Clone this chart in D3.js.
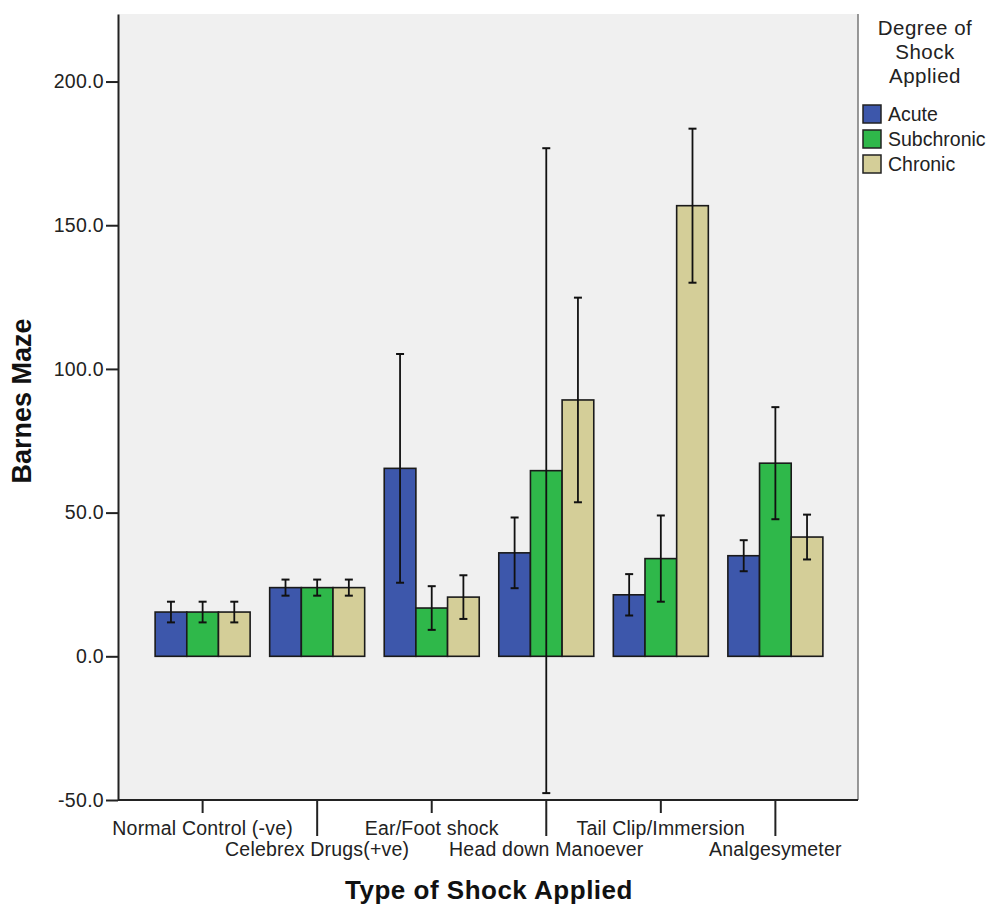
<!DOCTYPE html>
<html>
<head>
  <meta charset="utf-8">
  <style>
    body {
      margin: 0px;
      padding: 0px;
      background: #fff;
    }
    text {
      font-family: "Liberation Sans", Arial, sans-serif;
    }
  </style>
</head>
<body>
  <div id="chart"></div>
  <script src="https://cdn.jsdelivr.net/npm/d3@7"></script>
  <script>
    // categories + series
    let categories = ['Normal Control (-ve)', 'Celebrex Drugs(+ve)', 'Ear/Foot shock',
      'Head down Manoever', 'Tail Clip/Immersion', 'Analgesymeter'];
    let seriesNames = ['Acute', 'Subchronic', 'Chronic'];
    let seriesColors = ['#3d57ab', '#2fb84a', '#d4ce98'];

    // means, one array per series (same order as categories)
    let acute = [15.4, 23.9, 65.4, 36.0, 21.4, 35.0];
    let subchronic = [15.4, 23.9, 16.8, 64.6, 34.0, 67.2];
    let chronic = [15.4, 23.9, 20.6, 89.2, 156.8, 41.5];

    // error bar half widths
    let acuteErr = [3.6, 2.8, 39.8, 12.3, 7.2, 5.4];
    let subchronicErr = [3.6, 2.8, 7.6, 112.2, 15.0, 19.5];
    let chronicErr = [3.6, 2.8, 7.6, 35.6, 26.8, 7.8];

    let yTicks = [-50, 0, 50, 100, 150, 200];

    var width = 990, height = 905;
    // plot box (note: "top" is taken by window.top)
    var plotLeft = 118, plotRight = 858, plotTop = 14, plotBottom = 800;

    var values = [acute, subchronic, chronic];
    var errs = [acuteErr, subchronicErr, chronicErr];
    var rows = [];
    categories.forEach(function(c, i) {
      seriesNames.forEach(function(s, j) {
        rows.push({cat: c, series: s, value: values[j][i], err: errs[j][i], idx: j});
      });
    });

    var svg = d3.select('#chart').append('svg')
      .attr('width', width).attr('height', height);

    var x = d3.scaleBand()
      .domain(categories)
      .range([plotLeft + 1, plotRight + 1])
      .paddingInner(0)
      .paddingOuter(0.23);
    var xSub = d3.scaleBand()
      .domain(seriesNames)
      .range([-47.5, 47.5]);
    var y = d3.scaleLinear()
      .domain([-50, 223.5])
      .range([plotBottom, plotTop]);

    function cx(c) { return x(c) + x.bandwidth() / 2; }

    // plot background
    svg.append('rect')
      .attr('x', plotLeft).attr('y', plotTop)
      .attr('width', plotRight - plotLeft).attr('height', plotBottom - plotTop)
      .style('fill', '#f0f0f0');
    svg.append('line')
      .attr('x1', plotRight).attr('x2', plotRight).attr('y1', plotTop).attr('y2', plotBottom)
      .style('stroke', '#777').style('stroke-width', 1.5);

    // bars
    svg.selectAll('rect.bar')
      .data(rows)
      .enter()
      .append('rect')
      .attr('class', 'bar')
      .attr('x', function(d) { return cx(d.cat) + xSub(d.series); })
      .attr('y', function(d) { return y(d.value); })
      .attr('width', xSub.bandwidth())
      .attr('height', function(d) { return y(0) - y(d.value); })
      .style('fill', function(d) { return seriesColors[d.idx]; })
      .style('stroke', '#1a1a1a')
      .style('stroke-width', 1.6);

    // error bars
    var eb = svg.selectAll('g.err')
      .data(rows)
      .enter()
      .append('g')
      .attr('class', 'err')
      .attr('transform', function(d) {
        return 'translate(' + (cx(d.cat) + xSub(d.series) + xSub.bandwidth() / 2) + ',0)';
      });
    eb.append('line')
      .attr('x1', 0).attr('x2', 0)
      .attr('y1', function(d) { return y(d.value - d.err); })
      .attr('y2', function(d) { return y(d.value + d.err); })
      .style('stroke', '#111').style('stroke-width', 1.8);
    eb.append('line')
      .attr('x1', -4).attr('x2', 4)
      .attr('y1', function(d) { return y(d.value + d.err); })
      .attr('y2', function(d) { return y(d.value + d.err); })
      .style('stroke', '#111').style('stroke-width', 2);
    eb.append('line')
      .attr('x1', -4).attr('x2', 4)
      .attr('y1', function(d) { return y(d.value - d.err); })
      .attr('y2', function(d) { return y(d.value - d.err); })
      .style('stroke', '#111').style('stroke-width', 2);

    // y axis (plain hyphen for negatives, like the original)
    var fmt = d3.format('.1f');
    var yAxis = svg.append('g')
      .attr('transform', 'translate(' + plotLeft + ',0)')
      .call(d3.axisLeft(y).tickValues(yTicks)
        .tickFormat(function(d) { return fmt(d).replace('\u2212', '-'); })
        .tickSize(12).tickPadding(2).tickSizeOuter(0));
    yAxis.select('.domain').style('stroke', '#222').style('stroke-width', 2);
    yAxis.selectAll('.tick line').style('stroke', '#222').style('stroke-width', 2);
    yAxis.selectAll('.tick text')
      .style('font-size', '19.5px')
      .style('font-family', '"Liberation Sans", Arial, sans-serif')
      .style('letter-spacing', '0.3px')
      .style('fill', '#222');

    // x axis
    var xAxis = svg.append('g')
      .attr('transform', 'translate(0,' + plotBottom + ')');
    xAxis.append('line')
      .attr('x1', plotLeft).attr('x2', plotRight).attr('y1', 0).attr('y2', 0)
      .style('stroke', '#222').style('stroke-width', 2);
    var xt = xAxis.selectAll('g.xtick')
      .data(categories)
      .enter()
      .append('g')
      .attr('class', 'xtick')
      .attr('transform', function(d) { return 'translate(' + cx(d) + ',0)'; });
    xt.append('line')
      .attr('y1', 0)
      .attr('y2', function(d, i) { return i % 2 == 0 ? 13 : 36; })
      .style('stroke', '#222').style('stroke-width', 2);
    xt.append('text')
      .attr('y', function(d, i) { return i % 2 == 0 ? 28 : 49; })
      .attr('dy', '0.35em')
      .attr('text-anchor', 'middle')
      .style('font-size', '19.5px')
      .style('letter-spacing', '0.2px')
      .style('fill', '#222')
      .text(function(d) { return d; });

    // axis titles
    svg.append('text')
      .attr('x', 489).attr('y', 890)
      .attr('dy', '0.35em')
      .attr('text-anchor', 'middle')
      .style('font-size', '26px')
      .style('font-weight', 'bold')
      .style('letter-spacing', '0.5px')
      .style('fill', '#111')
      .text('Type of Shock Applied');
    svg.append('text')
      .attr('transform', 'translate(22,401) rotate(-90)')
      .attr('dy', '0.35em')
      .attr('text-anchor', 'middle')
      .style('font-size', '27px')
      .style('font-weight', 'bold')
      .style('fill', '#111')
      .text('Barnes Maze');

    // legend
    var legendTitle = ['Degree of', 'Shock', 'Applied'];
    svg.selectAll('text.ltitle')
      .data(legendTitle)
      .enter()
      .append('text')
      .attr('class', 'ltitle')
      .attr('x', 925)
      .attr('y', function(d, i) { return 28 + i * 24; })
      .attr('dy', '0.35em')
      .attr('text-anchor', 'middle')
      .style('font-size', '20.5px')
      .style('letter-spacing', '0.5px')
      .style('fill', '#222')
      .text(function(d) { return d; });
    var lg = svg.selectAll('g.leg')
      .data(seriesNames)
      .enter()
      .append('g')
      .attr('class', 'leg')
      .attr('transform', function(d, i) { return 'translate(863,' + (105 + i * 25) + ')'; });
    lg.append('rect')
      .attr('width', 18).attr('height', 18)
      .style('fill', function(d, i) { return seriesColors[i]; })
      .style('stroke', '#222').style('stroke-width', 1.5);
    lg.append('text')
      .attr('x', 25).attr('y', 9)
      .attr('dy', '0.35em')
      .style('font-size', '19.5px')
      .style('fill', '#222')
      .text(function(d) { return d; });
  </script>
</body>
</html>
